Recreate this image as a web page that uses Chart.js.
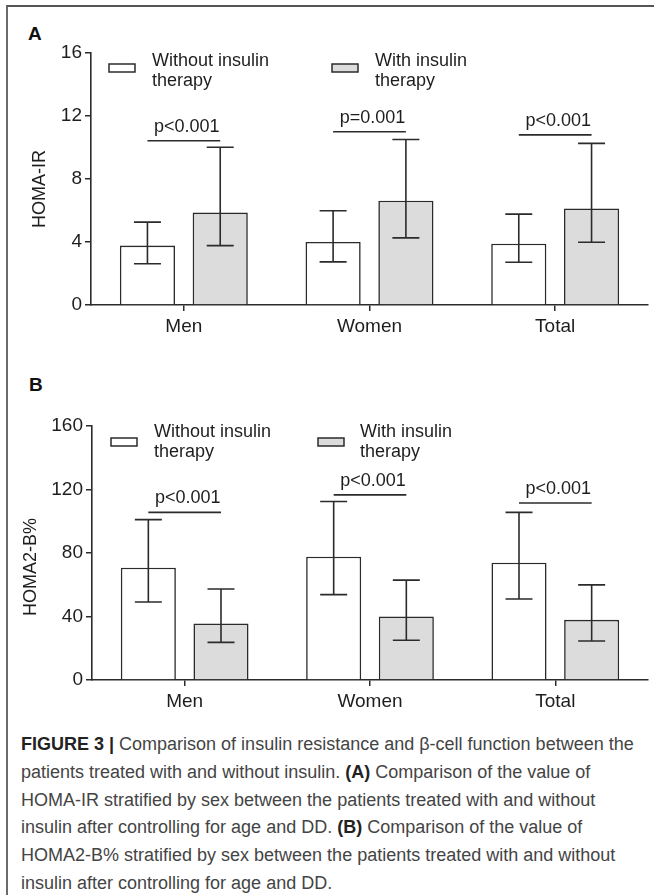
<!DOCTYPE html>
<html><head><meta charset="utf-8">
<script src="https://cdn.jsdelivr.net/npm/chart.js@4/dist/chart.umd.min.js"></script>
<style>
html,body{margin:0;padding:0;background:#fff;}
body{width:654px;height:895px;position:relative;overflow:hidden;font-family:"Liberation Sans",Arial,sans-serif;}
#frame{position:absolute;left:6px;top:5px;width:700px;height:960px;border-left:2px solid #6a6a6a;border-top:2px solid #555;}
canvas{position:absolute;left:0;}
.lbl{position:absolute;font-weight:bold;font-size:19px;color:#111;line-height:19px;}
#caption{position:absolute;left:21px;top:731px;font-size:18px;line-height:27.8px;color:#444;white-space:pre;}
#caption b{color:#222;}
</style></head>
<body>
<div id="frame"></div>
<div class="lbl" style="left:28px;top:24px;">A</div>
<div class="lbl" style="left:29px;top:375px;">B</div>
<canvas id="cA" width="654" height="345" style="top:0px;width:654px;height:345px;"></canvas>
<canvas id="cB" width="654" height="360" style="top:360px;width:654px;height:360px;"></canvas>
<div id="caption"><b>FIGURE 3 |</b> Comparison of insulin resistance and β-cell function between the
patients treated with and without insulin. <b>(A)</b> Comparison of the value of
HOMA-IR stratified by sex between the patients treated with and without
insulin after controlling for age and DD. <b>(B)</b> Comparison of the value of
HOMA2-B% stratified by sex between the patients treated with and without
insulin after controlling for age and DD.</div>
<script>
// ---- data ----
const categories = ['Men', 'Women', 'Total'];
const seriesWithout = ['Without insulin', 'therapy'];
const seriesWith = ['With insulin', 'therapy'];

// Panel A: HOMA-IR
const irTitle = 'HOMA-IR';
const irTicks = [0, 4, 8, 12, 16];
const irWithout = [3.77, 4.00, 3.89];
const irWithoutLow = [2.62, 2.74, 2.71];
const irWithoutHigh = [5.26, 5.98, 5.77];
const irWith = [5.87, 6.62, 6.13];
const irWithLow = [3.77, 4.26, 3.98];
const irWithHigh = [10.02, 10.51, 10.26];
const irPText = ['p<0.001', 'p=0.001', 'p<0.001'];
const irPLevel = [10.43, 11.0, 10.8];

// Panel B: HOMA2-B%
const bTitle = 'HOMA2-B%';
const bTicks = [0, 40, 80, 120, 160];
const bWithout = [70.7, 77.7, 73.9];
const bWithoutLow = [49.1, 53.8, 51.0];
const bWithoutHigh = [101.0, 112.4, 105.6];
const bWith = [35.6, 40.0, 37.9];
const bWithLow = [23.7, 25.0, 24.6];
const bWithHigh = [57.3, 62.9, 59.9];
const bPText = ['p<0.001', 'p<0.001', 'p<0.001'];
const bPLevel = [105.6, 116.6, 111.5];

// ---- styling ----
const FONT = '"Liberation Sans", Arial, sans-serif';
const INK = '#2b2b2b';
const GRAYFILL = '#dcdcdc';
Chart.defaults.font.family = FONT;
Chart.defaults.font.size = 18;
Chart.defaults.color = '#1e1e1e';

const extrasPlugin = {
  id: 'extras',
  afterDatasetsDraw(chart, args, opts) {
    const ctx = chart.ctx;
    const y = chart.scales.y;
    ctx.save();
    ctx.strokeStyle = INK;
    ctx.lineWidth = 1.6;
    // error bars
    chart.data.datasets.forEach((ds, i) => {
      const meta = chart.getDatasetMeta(i);
      meta.data.forEach((el, j) => {
        const x = el.x;
        const yh = y.getPixelForValue(ds.errHigh[j]);
        const yl = y.getPixelForValue(ds.errLow[j]);
        const cap = 13.5;
        ctx.beginPath();
        ctx.moveTo(x, yh); ctx.lineTo(x, yl);
        ctx.moveTo(x - cap, yh); ctx.lineTo(x + cap, yh);
        ctx.moveTo(x - cap, yl); ctx.lineTo(x + cap, yl);
        ctx.stroke();
      });
    });
    // significance lines
    const m0 = chart.getDatasetMeta(0), m1 = chart.getDatasetMeta(1);
    ctx.fillStyle = '#1e1e1e';
    ctx.font = '18px ' + FONT;
    ctx.textAlign = 'center';
    ctx.textBaseline = 'alphabetic';
    opts.pLevel.forEach((lv, j) => {
      const x0 = m0.data[j].x, x1 = m1.data[j].x;
      const yy = y.getPixelForValue(lv);
      ctx.beginPath();
      ctx.moveTo(x0, yy); ctx.lineTo(x1, yy);
      ctx.stroke();
      ctx.fillText(opts.pText[j], (x0 + x1) / 2 + 3, yy - 9);
    });
    // legend
    const L = opts.legend;
    chart.data.datasets.forEach((ds, i) => {
      const p = L[i];
      ctx.fillStyle = ds.backgroundColor;
      ctx.fillRect(p.bx, p.by, 26, 8);
      ctx.lineWidth = 1.5;
      ctx.strokeRect(p.bx, p.by, 26, 8);
      ctx.fillStyle = '#1e1e1e';
      ctx.textAlign = 'left';
      ds.label.forEach((t, k) => ctx.fillText(t, p.tx, p.ty + k * 19.5));
    });
    // y title
    ctx.save();
    ctx.translate(opts.yTitle.x, opts.yTitle.y);
    ctx.rotate(-Math.PI / 2);
    ctx.textAlign = 'center';
    ctx.textBaseline = 'middle';
    ctx.fillText(opts.yTitle.text, 0, 0);
    ctx.restore();
    ctx.restore();
  }
};

function makeChart(id, tickVals, d0, d0lo, d0hi, d1, d1lo, d1hi, pText, pLevel, topPad, yWidth, extraOpts) {
  return new Chart(document.getElementById(id), {
    type: 'bar',
    data: {
      labels: categories,
      datasets: [
        { label: seriesWithout, data: d0, errLow: d0lo, errHigh: d0hi,
          backgroundColor: '#ffffff', borderColor: INK, borderWidth: 1.6,
          categoryPercentage: 0.784, barPercentage: 0.758 },
        { label: seriesWith, data: d1, errLow: d1lo, errHigh: d1hi,
          backgroundColor: GRAYFILL, borderColor: INK, borderWidth: 1.6,
          categoryPercentage: 0.784, barPercentage: 0.758 }
      ]
    },
    options: {
      responsive: false, animation: false, devicePixelRatio: 1,
      layout: { padding: { top: topPad, right: 6, left: 0, bottom: 0 } },
      plugins: { legend: { display: false }, tooltip: { enabled: false },
        extras: Object.assign({ pText, pLevel }, extraOpts) },
      scales: {
        x: {
          offset: true,
          grid: { offset: false, drawOnChartArea: false, drawTicks: true, tickLength: 6, color: INK, lineWidth: 1.5 },
          border: { display: true, color: INK, width: 1.6 },
          ticks: { padding: 4, font: { size: 19 }, color: '#1e1e1e' },
          afterFit: s => { s.height = 40; }
        },
        y: {
          min: tickVals[0], max: tickVals[tickVals.length - 1],
          afterBuildTicks: s => { s.ticks = tickVals.map(v => ({ value: v })); },
          grid: { drawOnChartArea: false, drawTicks: true, tickLength: 6, color: INK, lineWidth: 1.5 },
          border: { display: true, color: INK, width: 1.6 },
          ticks: { padding: 3, font: { size: 19 }, color: '#1e1e1e' },
          afterFit: s => { s.width = yWidth; }
        }
      }
    },
    plugins: [extrasPlugin]
  });
}

makeChart('cA', irTicks, irWithout, irWithoutLow, irWithoutHigh, irWith, irWithLow, irWithHigh,
  irPText, irPLevel, 53, 91, {
    legend: [{ bx: 109, by: 64, tx: 152, ty: 66 }, { bx: 332, by: 64, tx: 375, ty: 66 }],
    yTitle: { text: irTitle, x: 40, y: 189 }
  });
makeChart('cB', bTicks, bWithout, bWithoutLow, bWithoutHigh, bWith, bWithLow, bWithHigh,
  bPText, bPLevel, 66, 92, {
    legend: [{ bx: 111, by: 78, tx: 154, ty: 77 }, { bx: 318, by: 78, tx: 360, ty: 77 }],
    yTitle: { text: bTitle, x: 31, y: 207 }
  });
</script>
</body></html>
